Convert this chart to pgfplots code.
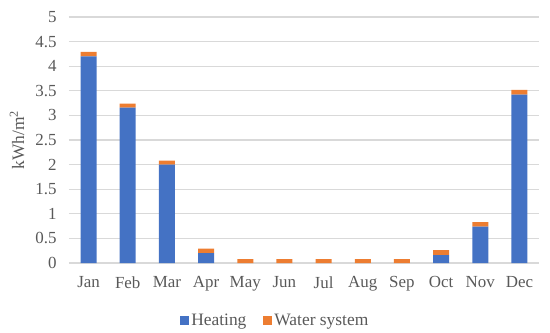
\documentclass[border=0pt]{standalone}
\usepackage{pgfplots}
\pgfplotsset{compat=1.18}
\usepackage{fontspec}
\setmainfont{Liberation Serif}
\definecolor{heat}{HTML}{4472C4}
\definecolor{water}{HTML}{ED7D31}
\definecolor{gridc}{HTML}{D9D9D9}
\definecolor{txt}{HTML}{595959}
\begin{document}
\begin{tikzpicture}
\begin{axis}[name=ax,
  scale only axis, width=470bp, height=246bp,
  ybar stacked, bar width=16bp,
  xmin=-0.5, xmax=11.5, ymin=0, ymax=5,
  xtick={0,...,11},
  xticklabels={Jan,Feb,Mar,Apr,May,Jun,Jul,Aug,Sep,Oct,Nov,Dec},
  ytick={0,0.5,...,5},
  yticklabels={0,0.5,1,1.5,2,2.5,3,3.5,4,4.5,5},
  /pgf/number format/assume math mode=true,
  major tick length=0pt,
  axis line style={draw=none},
  ymajorgrids, grid style={gridc, line width=1.2bp},
  tick label style={font=\fontsize{17}{19}\selectfont, text=txt},
  yticklabel style={xshift=-9bp},
  xticklabel style={yshift=-10bp},
  ylabel={kWh/m\textsuperscript{2}},
  ylabel style={font=\fontsize{17.5}{19}\selectfont, text=txt, yshift=4bp},
  legend columns=2,
  legend style={draw=none, at={(0.439,-0.19)}, anchor=north,
    font=\fontsize{17.5}{19}\selectfont, text=txt,
    /tikz/every even column/.append style={column sep=15bp}},
  legend image code/.code={\fill[#1] (0,-4.5bp) rectangle (9bp,4.5bp);},
]
\addplot[fill=heat, draw=none] coordinates {(0,4.20) (1,3.16) (2,2.00) (3,0.20) (4,0) (5,0) (6,0) (7,0) (8,0) (9,0.16) (10,0.74) (11,3.42)};
\addplot[fill=water, draw=none] coordinates {(0,0.09) (1,0.08) (2,0.08) (3,0.09) (4,0.08) (5,0.08) (6,0.08) (7,0.08) (8,0.08) (9,0.10) (10,0.09) (11,0.10)};
\legend{Heating, Water system}
\end{axis}
\pgfresetboundingbox
\path ([xshift=-69bp,yshift=-70bp]ax.south west) rectangle ([xshift=11bp,yshift=17bp]ax.north east);
\end{tikzpicture}
\end{document}
